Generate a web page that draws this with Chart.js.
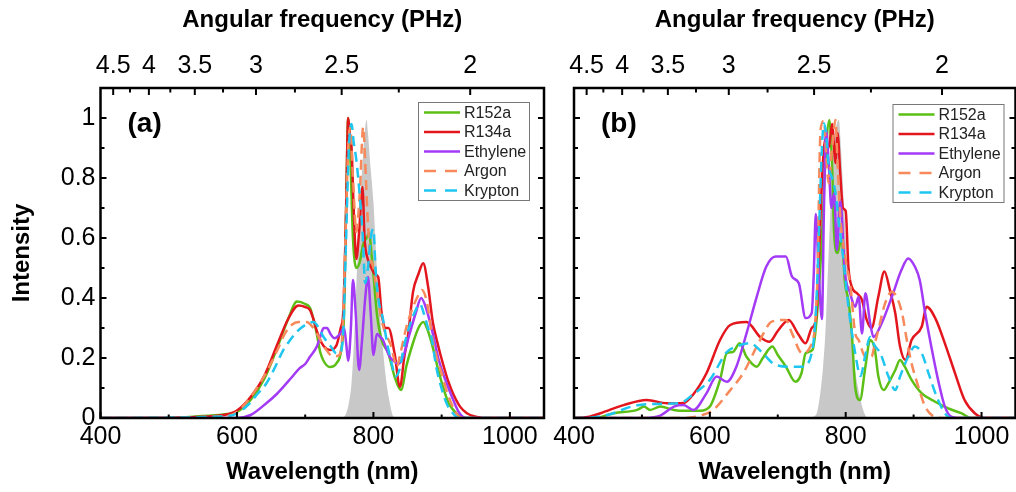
<!DOCTYPE html>
<html><head><meta charset="utf-8">
<script src="https://cdn.jsdelivr.net/npm/chart.js@4.4.0/dist/chart.umd.min.js"></script>
<style>
html,body{margin:0;padding:0;background:#fff;width:1016px;height:492px;overflow:hidden;position:relative}
canvas{position:absolute;top:0}
#ca{left:0}
#cb{left:508px}
</style></head><body>
<canvas id="ca" width="560" height="492"></canvas>
<canvas id="cb" width="560" height="492"></canvas>
<script>
// ---------- names / tick values ----------
const seriesNames = ['R152a', 'R134a', 'Ethylene', 'Argon', 'Krypton'];
const wavelengthMajor = [400, 600, 800, 1000];
const wavelengthMinor = [500, 700, 900];
const omegaMajor = [4.5, 4, 3.5, 3, 2.5, 2];
const omegaMinor = [4.25, 3.75, 3.25, 2.75, 2.25];
const intensityMajor = [0, 0.2, 0.4, 0.6, 0.8, 1];
const intensityMinor = [0.1, 0.3, 0.5, 0.7, 0.9];

// ---------- panel (a) data: [wavelength nm, intensity] ----------
const a_R152a = [[400,0],[500,0],[540,0.005],[580,0.012],[600,0.02],[620,0.06],[640,0.13],[660,0.24],[675,0.33],[688,0.388],[700,0.38],[707,0.367],[712,0.33],[717,0.28],[722,0.22],[727,0.19],[736,0.17],[746,0.183],[753,0.23],[757,0.35],[760,0.7],[763,1.0],[766,0.88],[770,0.6],[775,0.5],[780,0.52],[785,0.58],[790,0.6],[794,0.615],[797,0.55],[800,0.48],[805,0.35],[812,0.26],[822,0.215],[831,0.138],[841,0.093],[848,0.17],[858,0.25],[866,0.3],[873,0.32],[880,0.29],[888,0.227],[895,0.16],[902,0.104],[910,0.05],[917,0.027],[925,0.008],[935,0],[1050,0]];
const a_R134a = [[400,0],[500,0],[540,0.003],[580,0.01],[600,0.025],[620,0.07],[640,0.14],[660,0.25],[675,0.33],[690,0.375],[700,0.37],[707,0.36],[712,0.33],[717,0.29],[722,0.26],[727,0.24],[736,0.227],[746,0.243],[752,0.3],[756,0.36],[760,0.7],[763,1.0],[766,0.93],[768,0.9],[771,0.7],[775,0.53],[779,0.62],[784,0.77],[787,0.6],[792,0.527],[797,0.5],[802,0.48],[807,0.47],[812,0.35],[818,0.3],[822,0.3],[831,0.215],[839,0.104],[845,0.2],[851,0.28],[858,0.42],[866,0.48],[873,0.516],[880,0.44],[887,0.32],[895,0.24],[902,0.18],[910,0.12],[917,0.08],[927,0.038],[937,0.016],[950,0.004],[960,0],[1050,0]];
const a_Ethylene = [[400,0],[600,0],[620,0.01],[643,0.049],[656,0.075],[668,0.104],[680,0.135],[692,0.166],[700,0.18],[707,0.204],[717,0.238],[722,0.27],[727,0.3],[732,0.3],[737,0.28],[743,0.266],[751,0.28],[757,0.3],[760,0.25],[763,0.19],[767,0.3],[770,0.46],[774,0.35],[779,0.16],[783,0.25],[788,0.4],[792,0.47],[796,0.35],[800,0.21],[805,0.28],[810,0.27],[814,0.26],[819,0.23],[824,0.204],[830,0.19],[836,0.18],[843,0.2],[853,0.28],[862,0.35],[870,0.4],[878,0.36],[887,0.282],[895,0.2],[902,0.149],[910,0.1],[917,0.06],[925,0.02],[935,0],[1050,0]];
const a_Argon = [[400,0],[580,0.005],[600,0.02],[620,0.07],[640,0.14],[660,0.23],[670,0.28],[680,0.31],[690,0.32],[702,0.32],[712,0.3],[720,0.27],[730,0.23],[741,0.205],[750,0.21],[755,0.3],[759,0.6],[763,0.9],[766,0.97],[770,0.8],[775,0.62],[780,0.75],[785,0.97],[788,0.85],[791,0.69],[795,0.55],[800,0.5],[805,0.42],[810,0.35],[815,0.3],[820,0.27],[826,0.24],[830,0.2],[834,0.17],[840,0.22],[848,0.3],[858,0.37],[866,0.41],[871,0.427],[878,0.39],[887,0.26],[893,0.2],[900,0.149],[906,0.1],[912,0.06],[918,0.03],[925,0.005],[935,0],[1050,0]];
const a_Krypton = [[400,0],[580,0.005],[600,0.015],[619,0.05],[630,0.08],[643,0.115],[656,0.17],[668,0.227],[678,0.26],[688,0.288],[700,0.31],[712,0.32],[720,0.3],[727,0.27],[737,0.24],[746,0.215],[752,0.22],[756,0.3],[760,0.6],[764,0.9],[768,0.98],[771,0.92],[775,0.86],[780,0.74],[784,0.62],[788,0.45],[792,0.5],[796,0.6],[800,0.63],[803,0.5],[807,0.4],[814,0.33],[820,0.25],[828,0.17],[832,0.138],[838,0.16],[845,0.24],[852,0.3],[860,0.35],[868,0.38],[875,0.34],[880,0.3],[885,0.27],[892,0.171],[902,0.082],[908,0.045],[915,0.02],[925,0],[1050,0]];
const a_Pump = [[745,0],[756,0.003],[760,0.015],[764,0.05],[768,0.12],[772,0.28],[776,0.5],[780,0.7],[784,0.85],[788,0.97],[790,0.993],[792,0.95],[796,0.83],[800,0.72],[805,0.5],[812,0.28],[819,0.12],[824,0.05],[828,0.01],[832,0]];

// ---------- panel (b) data ----------
const b_R152a = [[400,0],[429,0],[459,0.016],[493,0.027],[503,0.038],[512,0.027],[527,0.038],[547,0.027],[561,0.024],[586,0.024],[600,0.038],[615,0.127],[625,0.216],[634,0.22],[644,0.249],[654,0.204],[669,0.171],[678,0.2],[692,0.238],[700,0.21],[712,0.171],[726,0.121],[735,0.15],[741,0.216],[751,0.227],[758,0.349],[765,0.6],[770,0.85],[776,0.993],[780,0.838],[783,0.616],[788,0.55],[794,0.6],[799,0.45],[804,0.393],[809,0.282],[814,0.104],[821,0.06],[829,0.171],[836,0.26],[843,0.227],[848,0.14],[856,0.093],[863,0.116],[873,0.16],[880,0.193],[887,0.171],[897,0.127],[912,0.082],[931,0.055],[951,0.032],[970,0.016],[985,0],[1050,0]];
const b_R134a = [[400,0],[420,0.003],[439,0.016],[473,0.043],[507,0.06],[537,0.049],[561,0.05],[576,0.08],[595,0.149],[615,0.26],[630,0.31],[654,0.32],[674,0.27],[688,0.254],[700,0.29],[716,0.327],[730,0.28],[741,0.249],[750,0.3],[756,0.327],[760,0.5],[765,0.79],[770,0.93],[775,0.9],[780,0.98],[785,0.85],[788,0.95],[792,0.815],[796,0.7],[800,0.69],[804,0.504],[809,0.437],[817,0.415],[824,0.393],[831,0.327],[838,0.3],[848,0.404],[857,0.488],[865,0.427],[873,0.349],[880,0.238],[888,0.193],[897,0.26],[912,0.305],[919,0.371],[932,0.332],[946,0.249],[961,0.149],[975,0.06],[990,0.016],[1005,0],[1050,0]];
const b_Ethylene = [[400,0],[500,0],[527,0.008],[547,0.038],[561,0.043],[576,0.027],[595,0.082],[610,0.138],[625,0.121],[639,0.171],[654,0.282],[669,0.404],[683,0.504],[697,0.538],[712,0.538],[721,0.471],[731,0.449],[741,0.333],[750,0.35],[753,0.48],[756,0.68],[760,0.5],[765,0.33],[768,0.7],[771,0.96],[775,0.85],[779,0.7],[783,0.75],[787,0.56],[792,0.727],[799,0.482],[806,0.42],[814,0.371],[819,0.404],[824,0.282],[829,0.416],[836,0.316],[841,0.27],[853,0.316],[868,0.404],[882,0.493],[892,0.532],[902,0.504],[909,0.46],[917,0.349],[926,0.238],[936,0.127],[946,0.038],[956,0.004],[970,0],[1050,0]];
const b_Argon = [[400,0],[561,0],[586,0.008],[605,0.027],[630,0.093],[649,0.149],[669,0.238],[688,0.316],[692,0.322],[712,0.327],[721,0.282],[736,0.216],[748,0.238],[758,0.438],[763,0.96],[768,0.99],[772,0.85],[775,0.782],[780,0.9],[785,0.993],[788,0.85],[792,0.671],[800,0.527],[807,0.438],[814,0.282],[819,0.26],[829,0.204],[838,0.204],[843,0.249],[848,0.293],[858,0.382],[868,0.421],[875,0.404],[883,0.349],[890,0.26],[897,0.182],[907,0.104],[917,0.038],[931,0.004],[945,0],[1050,0]];
const b_Krypton = [[400,0],[410,0],[449,0.01],[488,0.04],[522,0.047],[556,0.05],[576,0.08],[600,0.127],[625,0.22],[639,0.238],[659,0.249],[678,0.216],[693,0.182],[716,0.171],[736,0.171],[751,0.227],[756,0.35],[760,0.571],[765,0.9],[768,0.982],[771,0.95],[775,0.838],[780,0.8],[785,0.75],[790,0.65],[795,0.56],[804,0.371],[814,0.216],[822,0.14],[828,0.2],[836,0.27],[843,0.24],[851,0.216],[863,0.138],[873,0.093],[880,0.138],[892,0.204],[902,0.238],[912,0.216],[922,0.149],[934,0.071],[946,0.016],[955,0],[1050,0]];
const b_Pump = [[748,0],[753,0.005],[758,0.02],[763,0.09],[767,0.18],[770,0.28],[774,0.5],[778,0.72],[782,0.88],[786,0.97],[790,0.993],[793,0.9],[797,0.73],[800,0.6],[804,0.39],[808,0.28],[812,0.19],[817,0.115],[822,0.06],[826,0.025],[830,0.005],[834,0]];

// ---------- styles ----------
const seriesColors = ['#5cbf16', '#e3161d', '#a33af5', '#f7895a', '#1fc6ef'];
const seriesDash = [[], [], [], [10, 6], [10, 6]];
const seriesOrder = [4, 3, 2, 1, 0];
const FONT = "'Liberation Sans', Arial, Helvetica, sans-serif";
const TWO_PI_C = 1883.652; // nm * rad/fs  (omega[PHz] = 2*pi*c / lambda)

function pts(arr) { return arr.map(p => ({x: p[0], y: p[1]})); }

const framePlugin = {
  id: 'frameTicks',
  afterDatasetsDraw(chart) {
    const {ctx, chartArea: ca, scales} = chart;
    const cfg = chart.config.options.plugins.frameTicks;
    ctx.save();
    ctx.strokeStyle = '#000';
    ctx.lineWidth = 2;
    ctx.lineCap = 'butt';
    ctx.beginPath();
    const tick = (scale, vals, len, side) => {
      vals.forEach(v => {
        const p = scale.getPixelForValue(v);
        if (side === 'bottom') { ctx.moveTo(p, ca.bottom); ctx.lineTo(p, ca.bottom - len); }
        if (side === 'top') { ctx.moveTo(p, ca.top); ctx.lineTo(p, ca.top + len); }
        if (side === 'left') { ctx.moveTo(ca.left, p); ctx.lineTo(ca.left + len, p); }
        if (side === 'right') { ctx.moveTo(ca.right, p); ctx.lineTo(ca.right - len, p); }
      });
    };
    tick(scales.x, wavelengthMajor, 6, 'bottom');
    tick(scales.x, wavelengthMinor, 3.5, 'bottom');
    tick(scales.x2, omegaMajor.map(w => TWO_PI_C / w), 7, 'top');
    tick(scales.x2, omegaMinor.map(w => TWO_PI_C / w), 4.5, 'top');
    tick(scales.y, intensityMajor, 6, 'left');
    tick(scales.y, intensityMinor, 4, 'left');
    tick(scales.y, intensityMajor, 6, 'right');
    tick(scales.y, intensityMinor, 4, 'right');
    ctx.stroke();
    ctx.lineWidth = 2.5;
    ctx.strokeRect(ca.left, ca.top, ca.right - ca.left, ca.bottom - ca.top);

    // panel label
    ctx.fillStyle = '#000';
    ctx.font = 'bold 28px ' + FONT;
    ctx.textBaseline = 'middle';
    ctx.textAlign = 'left';
    ctx.fillText(cfg.panelLabel, ca.left + cfg.labelDx, ca.top + cfg.labelDy);

    // legend
    const L = cfg.legend;
    const bx = ca.right - L.right - L.width, by = ca.top + L.top;
    ctx.fillStyle = '#fff';
    ctx.fillRect(bx, by, L.width, L.height);
    ctx.strokeStyle = '#777';
    ctx.lineWidth = 1;
    ctx.strokeRect(bx + 0.5, by + 0.5, L.width, L.height);
    ctx.font = '16px ' + FONT;
    seriesNames.forEach((name, i) => {
      const yy = by + L.first + i * L.step;
      ctx.save();
      ctx.strokeStyle = seriesColors[i];
      ctx.lineWidth = 2.5;
      ctx.setLineDash(seriesDash[i].length ? [12, 9] : []);
      ctx.beginPath();
      ctx.moveTo(bx + 6, yy); ctx.lineTo(bx + 42, yy);
      ctx.stroke();
      ctx.restore();
      ctx.fillStyle = '#222';
      ctx.fillText(name, bx + 46, yy + 1);
    });
    ctx.restore();
  }
};

function makePanel(id, data, pump, o) {
  const datasets = data.map((d, i) => ({
    label: seriesNames[i],
    data: pts(d),
    borderColor: seriesColors[i],
    borderWidth: 2.5,
    borderDash: seriesDash[i],
    pointRadius: 0,
    fill: false,
    cubicInterpolationMode: 'monotone',
    order: seriesOrder[i]
  }));
  datasets.push({
    label: 'Pump',
    data: pts(pump),
    borderWidth: 0,
    borderColor: 'rgba(0,0,0,0)',
    backgroundColor: '#c8c8c8',
    fill: 'origin',
    pointRadius: 0,
    cubicInterpolationMode: 'monotone',
    order: 10
  });
  const tickFont = {family: FONT, size: 25};
  const titleFont = {family: FONT, size: 24, weight: 'bold'};
  return new Chart(document.getElementById(id), {
    type: 'line',
    data: {datasets},
    plugins: [framePlugin],
    options: {
      responsive: false,
      animation: false,
      devicePixelRatio: 1,
      layout: {padding: 0},
      plugins: {
        legend: {display: false},
        tooltip: {enabled: false},
        frameTicks: o.frame
      },
      scales: {
        x: {
          type: 'linear', position: 'bottom', min: 400, max: 1050,
          grid: {display: false, drawTicks: false, tickLength: 0},
          border: {display: false},
          afterBuildTicks: s => { s.ticks = wavelengthMajor.concat(wavelengthMinor).sort((a, b) => a - b).map(v => ({value: v})); },
          ticks: {font: tickFont, color: '#000', padding: 4, maxRotation: 0, autoSkip: false,
            callback: v => wavelengthMajor.includes(v) ? String(v) : ''},
          title: {display: true, text: 'Wavelength (nm)', font: titleFont, color: '#000', padding: {top: 0, bottom: 5.6}},
          afterFit: s => { s.height = 74; }
        },
        x2: {
          type: 'linear', position: 'top', min: 400, max: 1050,
          grid: {display: false, drawTicks: false, tickLength: 0},
          border: {display: false},
          afterBuildTicks: s => { s.ticks = omegaMajor.concat(omegaMinor).map(w => ({value: TWO_PI_C / w})).sort((a, b) => a.value - b.value); },
          ticks: {font: tickFont, color: '#000', padding: 7, maxRotation: 0, autoSkip: false,
            callback: v => { const w = Math.round(TWO_PI_C / v * 100) / 100; return omegaMajor.includes(w) ? String(w) : ''; }},
          title: {display: true, text: 'Angular frequency (PHz)', font: titleFont, color: '#000', padding: {top: 5.6, bottom: 0}},
          afterFit: s => { s.height = 88; }
        },
        y: {
          type: 'linear', position: 'left', min: 0, max: 1.1,
          grid: {display: false, drawTicks: false, tickLength: 0},
          border: {display: false},
          afterBuildTicks: s => { s.ticks = intensityMajor.concat(intensityMinor).sort((a, b) => a - b).map(v => ({value: v})); },
          ticks: {display: o.yLabels, font: tickFont, color: '#000', padding: 5, autoSkip: false,
            callback: v => intensityMajor.includes(v) ? String(v) : ''},
          title: {display: o.yLabels, text: 'Intensity', font: titleFont, color: '#000', padding: {top: 7.6, bottom: 0}},
          afterFit: s => { s.width = o.leftW; }
        },
        y2: {
          type: 'linear', position: 'right', min: 0, max: 1.1,
          grid: {display: false, drawTicks: false, tickLength: 0},
          border: {display: false},
          ticks: {display: false},
          afterFit: s => { s.width = o.rightW; }
        }
      }
    }
  });
}

makePanel('ca', [a_R152a, a_R134a, a_Ethylene, a_Argon, a_Krypton], a_Pump, {
  yLabels: true, leftW: 100.5, rightW: 16,
  frame: {panelLabel: '(a)', labelDx: 27, labelDy: 36,
    legend: {right: 15, top: 14, width: 111, height: 98, first: 10.5, step: 19.5}}
});
makePanel('cb', [b_R152a, b_R134a, b_Ethylene, b_Argon, b_Krypton], b_Pump, {
  yLabels: false, leftW: 66, rightW: 52.5,
  frame: {panelLabel: '(b)', labelDx: 27, labelDy: 36,
    legend: {right: 12, top: 16, width: 111, height: 98, first: 10.5, step: 19.5}}
});
</script>
</body></html>
